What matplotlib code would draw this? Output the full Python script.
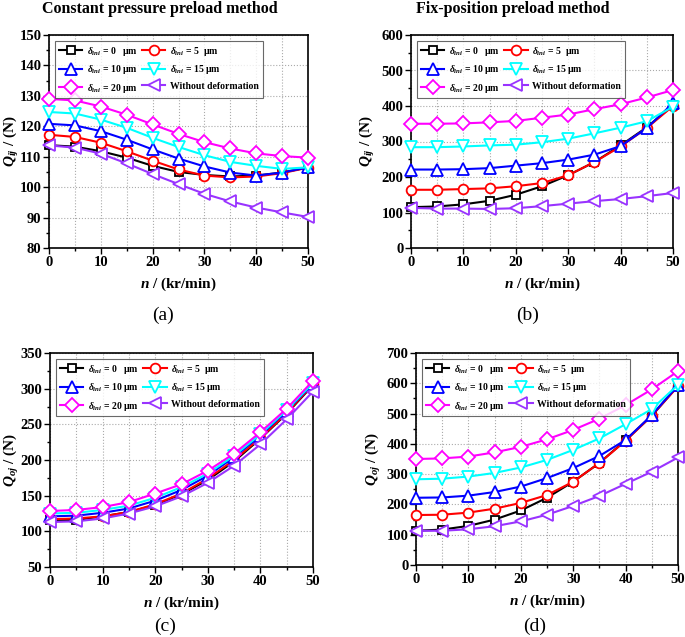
import numpy as np
import matplotlib
matplotlib.use('Agg')
import matplotlib.pyplot as plt
from matplotlib.ticker import MultipleLocator

plt.rcParams['font.family'] = ['Liberation Serif', 'DejaVu Serif']
plt.rcParams['font.weight'] = 'bold'
plt.rcParams['mathtext.fontset'] = 'custom'
plt.rcParams['mathtext.rm'] = 'Liberation Serif:bold'
plt.rcParams['mathtext.it'] = 'Liberation Serif:italic:bold'
plt.rcParams['mathtext.bf'] = 'Liberation Serif:bold'

n = [0, 5, 10, 15, 20, 25, 30, 35, 40, 45, 50]

labels = [r'$\delta_{ini}$ = 0   μm', r'$\delta_{ini}$ = 5  μm',
          r'$\delta_{ini}$ = 10 μm', r'$\delta_{ini}$ = 15 μm',
          r'$\delta_{ini}$ = 20 μm', 'Without deformation']
colors = ['black', 'red', 'blue', 'cyan', 'magenta', '#9933ff']
markers = ['s', 'o', '^', 'v', 'D', '<']
msizes = [6, 7, 8, 8, 7, 8]

# (a) constant pressure, Qij
qa_0 = [113.8, 113.3, 111.8, 109.7, 107.0, 105.0, 104.0, 103.5, 103.8, 104.8, 106.5]
qa_5 = [117.2, 116.5, 114.6, 111.8, 108.7, 105.8, 103.8, 103.2, 103.5, 104.6, 106.4]
qa_10 = [120.8, 120.3, 118.4, 115.6, 112.4, 109.4, 106.8, 104.8, 103.8, 104.8, 106.5]
qa_15 = [124.7, 124.2, 122.2, 119.5, 116.2, 113.2, 110.5, 108.3, 107.0, 106.0, 106.5]
qa_20 = [129.0, 128.5, 126.5, 123.8, 120.6, 117.5, 114.8, 112.7, 111.1, 110.2, 109.7]
qa_nd = [113.7, 113.0, 111.0, 107.8, 104.3, 101.0, 97.8, 95.3, 93.3, 91.7, 90.2]

# (b) fix-position, Qij
qb_0 = [115, 117, 123, 133, 150, 174, 205, 242, 289, 340, 402]
qb_5 = [164, 164, 166, 168, 174, 183, 205, 242, 286, 338, 400]
qb_10 = [221, 221, 222, 225, 232, 239, 249, 263, 287, 338, 408]
qb_15 = [284, 284, 286, 289, 291, 298, 308, 323, 339, 357, 398]
qb_20 = [350, 350, 351, 354, 358, 367, 376, 391, 405, 424, 445]
qb_nd = [113, 111, 111, 110, 112, 118, 125, 132, 138, 146, 155]

# (c) constant pressure, Qoj
qc_0 = [116, 116, 121, 127, 137, 152, 172, 198, 230, 265, 305]
qc_5 = [117, 118, 121, 127, 138, 153, 174, 200, 231, 266, 306]
qc_10 = [121, 122, 126, 132, 143, 158, 178, 204, 234, 269, 307]
qc_15 = [125, 126, 130, 136, 147, 162, 181, 206, 236, 270, 308]
qc_20 = [128.5, 130, 134, 141, 153, 166, 185, 209, 239, 272, 311]
qc_nd = [113, 114, 118, 125, 135, 149, 168, 192, 222, 257, 296]

# (d) fix-position, Qoj
qd_0 = [113, 117, 129, 150, 180, 222, 275, 337, 412, 493, 592]
qd_5 = [165, 166, 173, 186, 205, 231, 275, 337, 410, 493, 590]
qd_10 = [222, 223, 229, 241, 259, 287, 320, 360, 413, 495, 593]
qd_15 = [283, 285, 292, 304, 322, 347, 380, 418, 465, 515, 595]
qd_20 = [350, 352, 358, 372, 390, 415, 446, 483, 528, 580, 640]
qd_nd = [113, 113, 118, 128, 144, 166, 195, 228, 268, 308, 355]

panels = [
    ([qa_0, qa_5, qa_10, qa_15, qa_20, qa_nd], (80, 150), 10, r'$Q_{ij}$ / (N)', '(a)',
     [49/685, 1-248/637, 259/685, 213/637], (163, 315), -0.108),
    ([qb_0, qb_5, qb_10, qb_15, qb_20, qb_nd], (0, 600), 100, r'$Q_{ij}$ / (N)', '(b)',
     [411/685, 1-248/637, 262/685, 213/637], (528, 315), -0.13),
    ([qc_0, qc_5, qc_10, qc_15, qc_20, qc_nd], (50, 350), 50, r'$Q_{oj}$ / (N)', '(c)',
     [50/685, 1-567/637, 263/685, 214/637], (165, 626), -0.11),
    ([qd_0, qd_5, qd_10, qd_15, qd_20, qd_nd], (0, 700), 100, r'$Q_{oj}$ / (N)', '(d)',
     [416/685, 1-565/637, 262/685, 212/637], (535, 626), -0.126),
]

# legend fills column by column, so reorder to get rows (0,5), (10,15), (20,none)
leg_order = [0, 2, 4, 1, 3, 5]

fig = plt.figure(figsize=(6.85, 6.37), dpi=100)

for series, ylim, ystep, ylab, tag, rect, tagpos, ylx in panels:
    ax = fig.add_axes(rect)
    lines = []
    for i, q in enumerate(series):
        ln, = ax.plot(n, q, color=colors[i], marker=markers[i], ms=msizes[i],
                      mfc='white', mec=colors[i], mew=1.3, lw=1.5, label=labels[i],
                      clip_on=False, zorder=3)
        lines.append(ln)
    ax.set_xlim(0, 50)
    ax.set_ylim(*ylim)
    ax.xaxis.set_major_locator(MultipleLocator(10))
    ax.xaxis.set_minor_locator(MultipleLocator(5))
    ax.yaxis.set_major_locator(MultipleLocator(ystep))
    ax.yaxis.set_minor_locator(MultipleLocator(ystep / 2))
    ax.grid(True, which='major', color='#aaaaaa', ls=':', lw=0.8)
    ax.grid(True, which='minor', axis='x', color='#aaaaaa', ls=':', lw=0.8)
    ax.tick_params(which='major', direction='out', length=4, width=1, labelsize=10.5, pad=1.5)
    ax.tick_params(which='minor', direction='out', length=2, width=1)
    for s in ax.spines.values():
        s.set_linewidth(1.2)
    ax.set_xlabel(r'$n$ / (kr/min)', fontsize=11, fontweight='bold', labelpad=5)
    ax.set_ylabel(ylab, fontsize=11, fontweight='bold')
    ax.yaxis.set_label_coords(ylx, 0.5)
    leg = ax.legend([lines[k] for k in leg_order], [labels[k] for k in leg_order],
                    ncol=2, loc='upper left', fontsize=7, frameon=True, fancybox=False,
                    edgecolor='#444444', handlelength=2.4, columnspacing=0.4,
                    handletextpad=0.5, borderpad=0.4, labelspacing=0.55,
                    bbox_to_anchor=(0.005, 0.995))
    leg.get_frame().set_linewidth(0.8)
    leg.set_zorder(5)
    fig.text(tagpos[0]/685, 1-tagpos[1]/637, tag, ha='center', va='center',
             fontsize=14, fontweight='normal')

fig.text(160/685, 1-9/637, 'Constant pressure preload method', ha='center', va='center',
         fontsize=11.5, fontweight='bold')
fig.text(513/685, 1-9/637, 'Fix-position preload method', ha='center', va='center',
         fontsize=11.5, fontweight='bold')

fig.savefig('out.png', dpi=100)
